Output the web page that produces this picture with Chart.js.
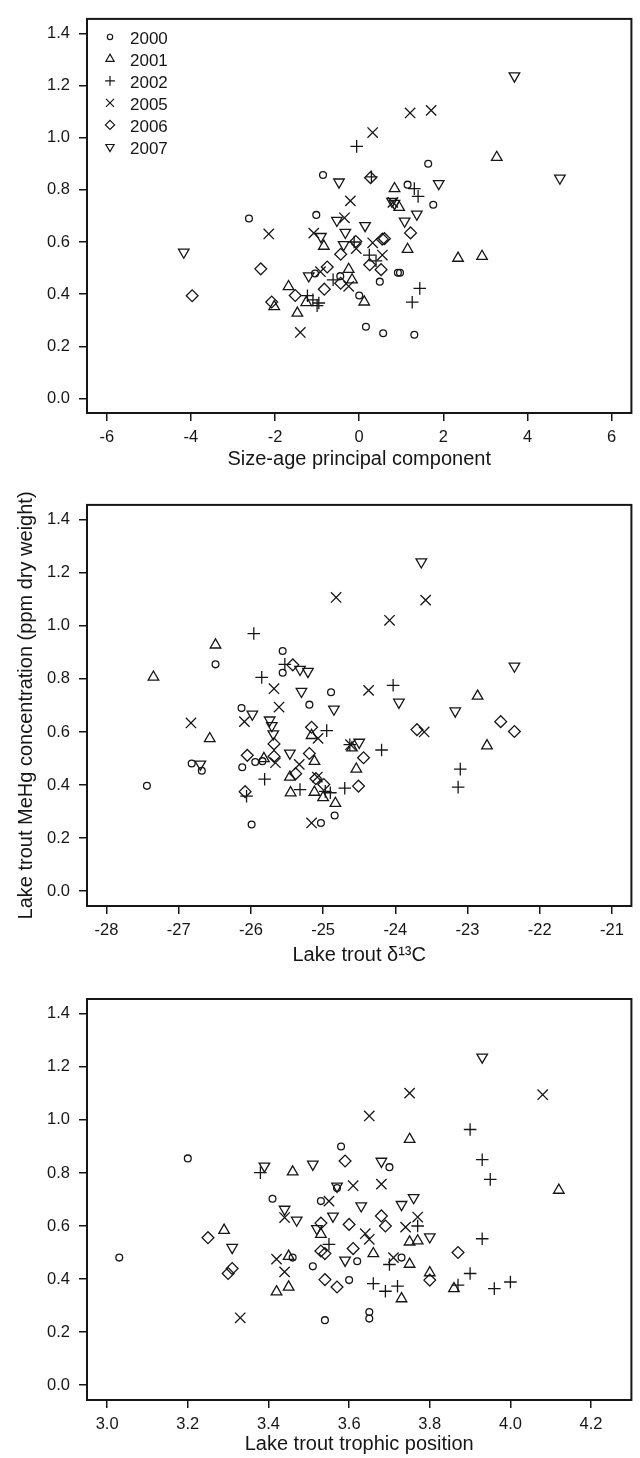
<!DOCTYPE html>
<html>
<head>
<meta charset="utf-8">
<script src="https://cdn.jsdelivr.net/npm/chart.js@4.4.1/dist/chart.umd.min.js"></script>
<style>
  body { margin: 0; background: #fff; }
  canvas { display: block; }
</style>
</head>
<body>
<canvas id="sizeAgeChart" width="640" height="486"></canvas>
<canvas id="carbonChart" width="640" height="486"></canvas>
<canvas id="trophicChart" width="640" height="486"></canvas>
<script>
const years = ["2000", "2001", "2002", "2005", "2006", "2007"];

const mehgTicks = [0, 0.2, 0.4, 0.6, 0.8, 1.0, 1.2, 1.4];
const sizeAgeTicks = [-6, -4, -2, 0, 2, 4, 6];
const carbonTicks = [-28, -27, -26, -25, -24, -23, -22, -21];
const trophicTicks = [3.0, 3.2, 3.4, 3.6, 3.8, 4.0, 4.2];

// size-age principal component vs MeHg
const sizeAge2000 = [[-0.86, 0.857], [-2.62, 0.69], [-1.02, 0.704], [1.64, 0.9], [1.15, 0.82], [1.76, 0.743], [-1.05, 0.479], [-0.45, 0.469], [0.92, 0.482], [0.97, 0.482], [0.49, 0.448], [0.0, 0.395], [0.16, 0.275], [0.57, 0.25], [1.31, 0.244]];
const sizeAge2001 = [[3.27, 0.925], [0.84, 0.805], [0.95, 0.733], [1.15, 0.572], [2.35, 0.538], [2.92, 0.545], [-0.84, 0.584], [-0.25, 0.495], [-0.17, 0.455], [0.12, 0.37], [-1.68, 0.429], [-2.02, 0.352], [-1.47, 0.327], [-1.26, 0.368]];
const sizeAge2002 = [[-0.06, 0.967], [0.29, 0.85], [1.31, 0.805], [1.4, 0.775], [1.44, 0.422], [1.26, 0.369], [0.24, 0.55], [0.4, 0.528], [-0.62, 0.455], [-1.23, 0.394], [-1.1, 0.378], [-0.96, 0.366], [-1.0, 0.356], [-0.12, 0.6]];
const sizeAge2005 = [[1.21, 1.095], [1.71, 1.105], [0.32, 1.02], [-0.21, 0.758], [-2.15, 0.631], [-1.08, 0.634], [-0.35, 0.693], [-0.07, 0.575], [0.32, 0.597], [0.55, 0.55], [-0.25, 0.43], [-1.4, 0.253], [-0.92, 0.486], [0.8, 0.752]];
const sizeAge2006 = [[0.27, 0.847], [-2.34, 0.497], [-3.97, 0.394], [1.22, 0.635], [0.55, 0.611], [0.6, 0.613], [-0.08, 0.602], [-0.44, 0.553], [-0.76, 0.504], [-0.83, 0.419], [-0.44, 0.442], [-1.52, 0.395], [-2.08, 0.37], [0.25, 0.513], [0.52, 0.494]];
const sizeAge2007 = [[3.69, 1.237], [4.77, 0.845], [1.89, 0.824], [-0.48, 0.83], [-4.17, 0.561], [0.78, 0.756], [0.84, 0.748], [1.37, 0.707], [1.08, 0.68], [0.14, 0.663], [-0.53, 0.683], [-0.33, 0.637], [-0.91, 0.621], [-0.37, 0.59], [-1.2, 0.47]];

// lake trout d13C vs MeHg
const carbon2000 = [[-27.44, 0.397], [-26.49, 0.855], [-25.56, 0.905], [-25.56, 0.823], [-26.13, 0.69], [-25.19, 0.703], [-24.89, 0.75], [-26.82, 0.481], [-26.68, 0.454], [-26.12, 0.467], [-25.94, 0.487], [-25.84, 0.49], [-25.99, 0.251], [-25.03, 0.257], [-24.84, 0.285]];
const carbon2001 = [[-27.35, 0.807], [-26.49, 0.928], [-26.57, 0.575], [-22.86, 0.735], [-22.73, 0.548], [-25.82, 0.5], [-25.45, 0.371], [-25.46, 0.43], [-25.16, 0.587], [-25.12, 0.489], [-25.12, 0.373], [-25.0, 0.353], [-24.83, 0.331], [-24.54, 0.46], [-24.6, 0.54]];
const carbon2002 = [[-25.96, 0.971], [-25.85, 0.806], [-25.53, 0.855], [-24.03, 0.776], [-24.95, 0.605], [-24.19, 0.532], [-23.1, 0.46], [-23.13, 0.392], [-25.81, 0.422], [-26.06, 0.358], [-25.32, 0.383], [-24.97, 0.376], [-24.9, 0.371], [-24.7, 0.388], [-24.63, 0.552]];
const carbon2005 = [[-24.82, 1.107], [-23.58, 1.097], [-24.08, 1.021], [-24.37, 0.757], [-25.68, 0.763], [-25.61, 0.694], [-26.83, 0.634], [-26.09, 0.639], [-25.07, 0.576], [-23.6, 0.6], [-24.62, 0.552], [-25.66, 0.484], [-25.33, 0.478], [-25.08, 0.43], [-25.16, 0.257]];
const carbon2006 = [[-25.42, 0.853], [-25.16, 0.618], [-25.19, 0.519], [-26.05, 0.512], [-25.68, 0.555], [-25.68, 0.508], [-25.38, 0.443], [-26.08, 0.375], [-25.1, 0.424], [-24.99, 0.402], [-24.44, 0.503], [-24.51, 0.396], [-23.7, 0.609], [-22.54, 0.639], [-22.35, 0.602]];
const carbon2007 = [[-23.64, 1.241], [-22.35, 0.848], [-25.32, 0.836], [-25.21, 0.828], [-25.3, 0.753], [-24.85, 0.686], [-23.95, 0.712], [-23.17, 0.679], [-25.98, 0.667], [-25.74, 0.645], [-25.71, 0.624], [-25.69, 0.593], [-25.46, 0.52], [-24.5, 0.561], [-26.7, 0.479]];

// lake trout trophic position vs MeHg
const trophic2000 = [[3.03, 0.481], [3.2, 0.855], [3.58, 0.9], [3.7, 0.822], [3.41, 0.703], [3.53, 0.694], [3.57, 0.743], [3.46, 0.481], [3.51, 0.448], [3.62, 0.467], [3.6, 0.396], [3.73, 0.481], [3.65, 0.276], [3.65, 0.251], [3.54, 0.245]];
const trophic2001 = [[3.75, 0.927], [3.46, 0.804], [4.12, 0.735], [3.29, 0.584], [3.53, 0.569], [3.75, 0.54], [3.77, 0.544], [3.66, 0.496], [3.45, 0.486], [3.75, 0.456], [3.8, 0.424], [3.42, 0.352], [3.45, 0.37], [3.73, 0.326], [3.86, 0.364]];
const trophic2002 = [[3.9, 0.964], [3.93, 0.85], [3.95, 0.776], [3.93, 0.552], [3.38, 0.801], [3.77, 0.6], [3.55, 0.531], [3.7, 0.455], [3.66, 0.383], [3.69, 0.354], [3.72, 0.373], [3.87, 0.377], [3.9, 0.421], [3.96, 0.364], [4.0, 0.389]];
const trophic2005 = [[3.75, 1.101], [4.08, 1.095], [3.65, 1.015], [3.61, 0.752], [3.68, 0.758], [3.55, 0.694], [3.44, 0.632], [3.64, 0.571], [3.65, 0.55], [3.74, 0.596], [3.77, 0.634], [3.42, 0.475], [3.44, 0.427], [3.33, 0.254], [3.71, 0.481]];
const trophic2006 = [[3.59, 0.845], [3.25, 0.556], [3.3, 0.421], [3.31, 0.44], [3.68, 0.638], [3.69, 0.6], [3.53, 0.611], [3.6, 0.606], [3.53, 0.506], [3.54, 0.496], [3.61, 0.515], [3.54, 0.398], [3.57, 0.37], [3.8, 0.396], [3.87, 0.5]];
const trophic2007 = [[3.93, 1.237], [3.39, 0.826], [3.51, 0.833], [3.68, 0.844], [3.57, 0.75], [3.76, 0.707], [3.73, 0.681], [3.63, 0.676], [3.44, 0.663], [3.47, 0.622], [3.56, 0.637], [3.52, 0.59], [3.8, 0.559], [3.31, 0.519], [3.59, 0.471]];

// one marker per year, like the R plotting symbols
const markerStyles = ["circle", "triangle", "cross", "crossRot", "rectRot", "triangle"];
const markerRotation = [0, 0, 0, 0, 0, 180];
const markerRadius = [3.4, 6.1, 6.3, 7.3, 5.9, 6.1];
const ink = "#161616";

Chart.defaults.font.family = '"Liberation Sans", Arial, Helvetica, sans-serif';
Chart.defaults.font.size = 16.5;
Chart.defaults.color = ink;

const framePlugin = {
  id: "frame",
  afterDraw(chart) {
    const { ctx, chartArea: a } = chart;
    ctx.save();
    ctx.strokeStyle = ink;
    ctx.lineWidth = 2;
    ctx.strokeRect(a.left, a.top, a.right - a.left, a.bottom - a.top);
    ctx.restore();
  }
};

const yearLegend = {
  id: "yearLegend",
  afterDatasetsDraw(chart, args, opts) {
    if (!opts.show) return;
    const { ctx, chartArea: a } = chart;
    ctx.save();
    ctx.textBaseline = "middle";
    ctx.font = '17px "Liberation Sans", Arial, sans-serif';
    ctx.lineWidth = 1.2;
    years.forEach((year, i) => {
      const y = a.top + 20 + 22 * i;
      ctx.strokeStyle = ink;
      ctx.fillStyle = "rgba(0,0,0,0)";
      Chart.helpers.drawPoint(ctx, {
        pointStyle: markerStyles[i],
        rotation: markerRotation[i],
        radius: markerRadius[i] * 0.78,
        borderWidth: 1.2
      }, a.left + 23, y - 2);
      ctx.fillStyle = ink;
      ctx.fillText(year, a.left + 43, y);
    });
    ctx.restore();
  }
};

function yearSets(series) {
  return series.map((points, i) => ({
    label: years[i],
    data: points.map(([x, y]) => ({ x, y })),
    pointStyle: markerStyles[i],
    pointRotation: markerRotation[i],
    pointRadius: markerRadius[i],
    pointHoverRadius: markerRadius[i],
    pointBorderColor: ink,
    pointBackgroundColor: "rgba(0,0,0,0)",
    pointBorderWidth: 1.3
  }));
}

function panelOptions(p) {
  return {
    responsive: false,
    animation: false,
    events: [],
    layout: { padding: { top: p.top, right: 3, left: 0, bottom: 0 } },
    plugins: {
      legend: { display: false },
      tooltip: { enabled: false },
      yearLegend: { show: p.legend }
    },
    scales: {
      x: {
        type: "linear",
        min: p.xMin,
        max: p.xMax,
        afterBuildTicks: axis => { axis.ticks = p.xTicks.map(value => ({ value })); },
        afterFit: axis => { axis.height = p.xHeight; },
        ticks: { padding: 7, maxRotation: 0, autoSkip: false, callback: p.xFormat },
        grid: { drawOnChartArea: false, tickLength: 8, color: ink, lineWidth: 1.5 },
        border: { display: false },
        title: {
          display: true,
          text: p.xTitle,
          font: { size: 20 },
          padding: { top: 0, bottom: p.titleGap }
        }
      },
      y: {
        type: "linear",
        min: -0.056,
        max: 1.456,
        afterBuildTicks: axis => { axis.ticks = mehgTicks.map(value => ({ value })); },
        afterFit: axis => { axis.width = 87; },
        ticks: { padding: 9, autoSkip: false, callback: v => v.toFixed(1) },
        grid: { drawOnChartArea: false, tickLength: 8, color: ink, lineWidth: 1.5 },
        border: { display: false },
        title: {
          display: !!p.yTitle,
          text: p.yTitle || "",
          font: { size: 20 },
          padding: { top: 14, bottom: 0 }
        }
      }
    }
  };
}

new Chart(document.getElementById("sizeAgeChart"), {
  type: "scatter",
  data: { datasets: yearSets([sizeAge2000, sizeAge2001, sizeAge2002, sizeAge2005, sizeAge2006, sizeAge2007]) },
  options: panelOptions({
    top: 12, xHeight: 73, titleGap: 15, legend: true,
    xMin: -6.47, xMax: 6.47, xTicks: sizeAgeTicks, xFormat: v => String(v),
    xTitle: "Size-age principal component"
  }),
  plugins: [framePlugin, yearLegend]
});

new Chart(document.getElementById("carbonChart"), {
  type: "scatter",
  data: { datasets: yearSets([carbon2000, carbon2001, carbon2002, carbon2005, carbon2006, carbon2007]) },
  options: panelOptions({
    top: 18, xHeight: 66, titleGap: 5, legend: false,
    xMin: -28.27, xMax: -20.73, xTicks: carbonTicks, xFormat: v => String(v),
    xTitle: "Lake trout \u03b4\u00b9\u00b3C",
    yTitle: "Lake trout MeHg concentration (ppm dry weight)"
  }),
  plugins: [framePlugin, yearLegend]
});

new Chart(document.getElementById("trophicChart"), {
  type: "scatter",
  data: { datasets: yearSets([trophic2000, trophic2001, trophic2002, trophic2005, trophic2006, trophic2007]) },
  options: panelOptions({
    top: 27, xHeight: 58, titleGap: 2, legend: false,
    xMin: 2.95, xMax: 4.3, xTicks: trophicTicks, xFormat: v => v.toFixed(1),
    xTitle: "Lake trout trophic position"
  }),
  plugins: [framePlugin, yearLegend]
});
</script>
</body>
</html>
